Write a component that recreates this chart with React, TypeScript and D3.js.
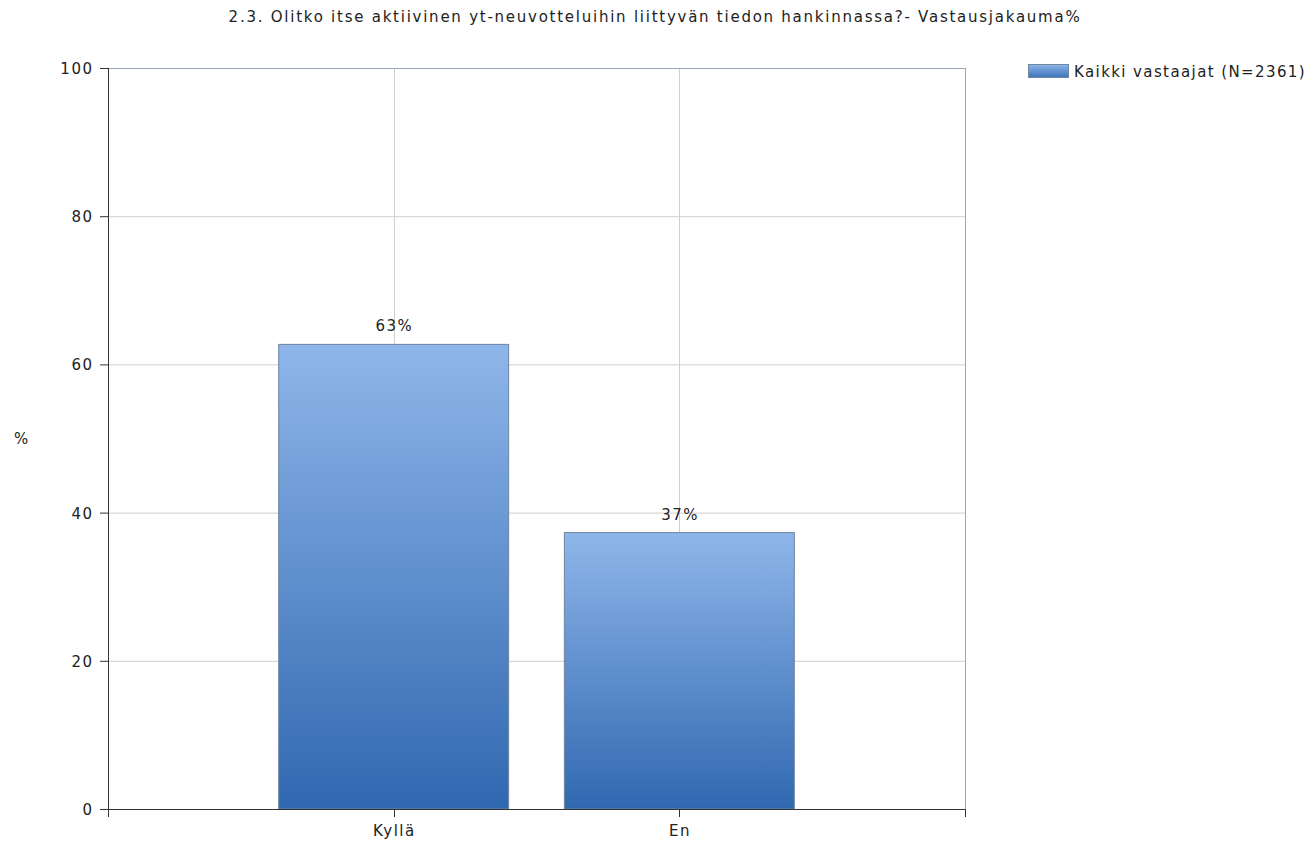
import React from "react";
import * as d3 from "d3";

const title = "2.3. Olitko itse aktiivinen yt-neuvotteluihin liittyvän tiedon hankinnassa?- Vastausjakauma%";
const categories = ["Kyllä", "En"];
const values = [62.7, 37.3];
const valueLabels = ["63%", "37%"];
const yTicks = [0, 20, 40, 60, 80, 100];
const seriesName = "Kaikki vastaajat (N=2361)";
const yLabel = "%";

const W = 1308, H = 842;
const left = 108, right = 965, top = 68, bottom = 809;
const font = "'DejaVu Sans', Verdana, sans-serif";
const fs = 15;
const ls = 1.5;

export default function App() {
  const y = d3.scaleLinear().domain([0, 100]).range([bottom, top]);
  const x = d3.scaleLinear().domain([0, categories.length + 1]).range([left, right]);
  const step = x(1) - x(0);
  const bw = step * 0.805;
  const xTicks = d3.range(0, categories.length + 2);
  const txt = { fontFamily: font, fontSize: fs, fill: "#222", letterSpacing: ls } as any;
  return (
    <svg width={W} height={H} style={{ position: "absolute", left: 0, top: 0, background: "#fff" }}>
      <defs>
        <linearGradient id="barGrad" x1="0" y1="0" x2="0" y2="1">
          <stop offset="0%" stopColor="#8fb6ea" />
          <stop offset="100%" stopColor="#3068b0" />
        </linearGradient>
        <linearGradient id="legGrad" x1="0" y1="0" x2="0" y2="1">
          <stop offset="0%" stopColor="#8fb6ea" />
          <stop offset="100%" stopColor="#3c72b8" />
        </linearGradient>
      </defs>
      <text x={655} y={22} textAnchor="middle" {...txt} letterSpacing={1.75}>{title}</text>
      {yTicks.map((t) => (
        <line key={"gy" + t} x1={left} x2={right} y1={y(t) + 0.5} y2={y(t) + 0.5} stroke="#cfcfcf" />
      ))}
      {categories.map((c, i) => (
        <line key={"gx" + c} x1={Math.round(x(i + 1)) + 0.5} x2={Math.round(x(i + 1)) + 0.5} y1={top} y2={bottom} stroke="#cfcfcf" />
      ))}
      <line x1={left} x2={right} y1={top + 0.5} y2={top + 0.5} stroke="#9aa6b2" />
      <line x1={right + 0.5} x2={right + 0.5} y1={top} y2={bottom} stroke="#9aa6b2" />
      {categories.map((c, i) => (
        <g key={"b" + c}>
          <rect x={x(i + 1) - bw / 2} y={y(values[i])} width={bw} height={bottom - y(values[i])}
            fill="url(#barGrad)" stroke="#6f85a0" strokeWidth={1} />
          <text x={x(i + 1) + ls / 2} y={y(values[i]) - 13} textAnchor="middle" {...txt}>{valueLabels[i]}</text>
        </g>
      ))}
      <line x1={left + 0.5} x2={left + 0.5} y1={top} y2={bottom + 8} stroke="#333" />
      <line x1={left} x2={right + 1} y1={bottom + 0.5} y2={bottom + 0.5} stroke="#333" />
      {yTicks.map((t) => (
        <g key={"yt" + t}>
          <line x1={left - 8} x2={left} y1={y(t) + 0.5} y2={y(t) + 0.5} stroke="#333" />
          <text x={left - 16 + ls} y={y(t) + 6} textAnchor="end" {...txt}>{t}</text>
        </g>
      ))}
      {xTicks.map((t) => (
        <line key={"xt" + t} x1={Math.round(x(t)) + 0.5} x2={Math.round(x(t)) + 0.5} y1={bottom} y2={bottom + 8} stroke="#333" />
      ))}
      {categories.map((c, i) => (
        <text key={"xl" + c} x={x(i + 1) + ls / 2} y={bottom + 27} textAnchor="middle" {...txt}>{c}</text>
      ))}
      <text x={22} y={444} textAnchor="middle" {...txt}>{yLabel}</text>
      <rect x={1028.5} y={64.5} width={40} height={13} fill="url(#legGrad)" stroke="#6f85a0" />
      <text x={1074} y={77} {...txt} letterSpacing={1.4}>{seriesName}</text>
    </svg>
  );
}
